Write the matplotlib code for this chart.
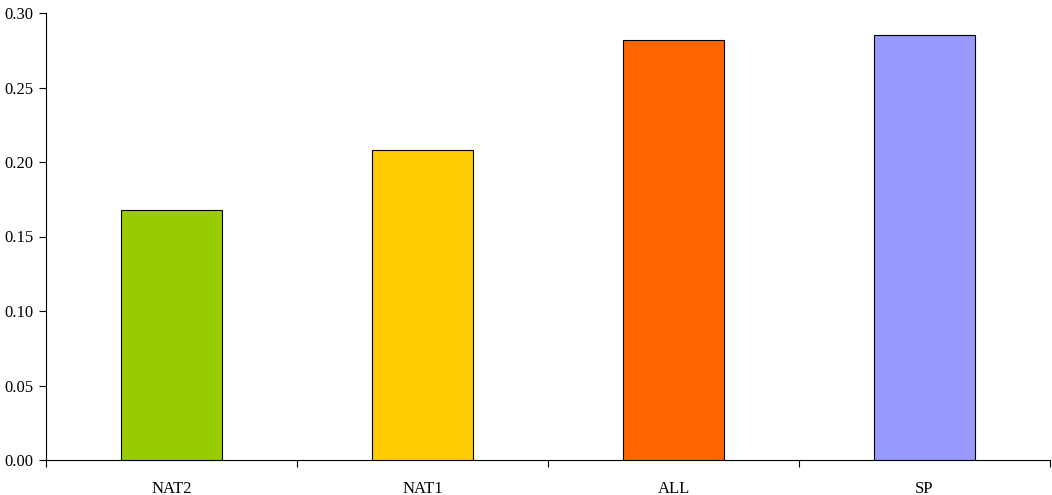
import matplotlib
matplotlib.use("Agg")
import matplotlib.pyplot as plt
from matplotlib.ticker import FixedLocator, FormatStrFormatter, NullFormatter

categories = ["NAT2", "NAT1", "ALL", "SP"]
values = [0.1675, 0.208, 0.282, 0.2855]
colors = ["#99cc00", "#ffcc00", "#ff6600", "#9999ff"]
yticks = [0.00, 0.05, 0.10, 0.15, 0.20, 0.25, 0.30]

plt.rcParams['font.family'] = ['Liberation Serif', 'DejaVu Serif']

fig = plt.figure(figsize=(10.52, 4.95), dpi=100)
ax = fig.add_axes([46/1052, 35/495, 1004/1052, 447/495])

x = list(range(len(categories)))
ax.bar(x, values, width=0.4, color=colors, edgecolor="black", linewidth=0.8, zorder=3)

ax.set_xlim(-0.5, len(categories) - 0.5)
ax.set_ylim(0, 0.30)
ax.set_yticks(yticks)
ax.yaxis.set_major_formatter(FormatStrFormatter('%.2f'))

ax.xaxis.set_major_locator(FixedLocator([i - 0.5 for i in range(len(categories) + 1)]))
ax.xaxis.set_major_formatter(NullFormatter())
ax.xaxis.set_minor_locator(FixedLocator(x))
ax.set_xticklabels(categories, minor=True)
ax.tick_params(axis='x', which='minor', length=0, pad=15, labelsize=12)
ax.tick_params(axis='x', which='major', length=5, width=0.8, direction='out')
ax.tick_params(axis='y', length=5, width=0.8, direction='out', labelsize=12, pad=4)

for s in ['top', 'right']:
    ax.spines[s].set_visible(False)
for s in ['left', 'bottom']:
    ax.spines[s].set_linewidth(0.8)

fig.savefig("out.png", dpi=100)
